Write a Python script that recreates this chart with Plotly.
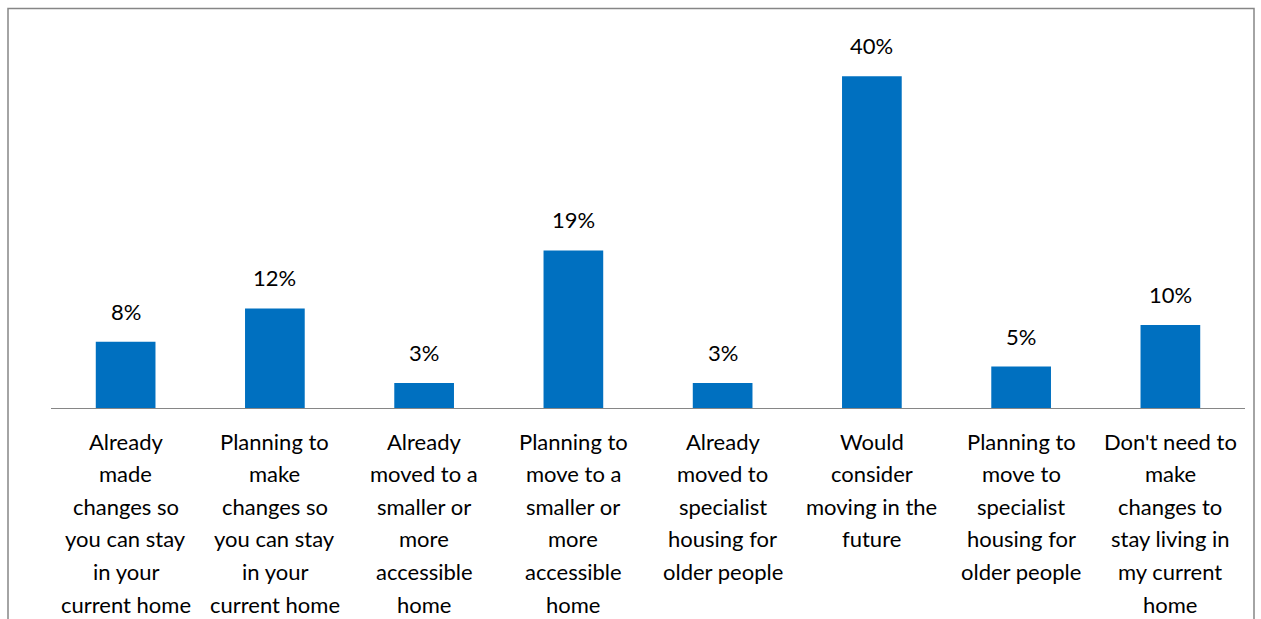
import plotly.graph_objects as go

# Survey responses: share of respondents per option (%)
categories = [
    "Already made changes so you can stay in your current home",
    "Planning to make changes so you can stay in your current home",
    "Already moved to a smaller or more accessible home",
    "Planning to move to a smaller or more accessible home",
    "Already moved to specialist housing for older people",
    "Would consider moving in the future",
    "Planning to move to specialist housing for older people",
    "Don't need to make changes to stay living in my current home",
]
values = [8, 12, 3, 19, 3, 40, 5, 10]
value_labels = ["8%", "12%", "3%", "19%", "3%", "40%", "5%", "10%"]

# Wrapped category labels, one entry per line
label_lines = [
    ["Already", "made", "changes so", "you can stay", "in your", "current home"],
    ["Planning to", "make", "changes so", "you can stay", "in your", "current home"],
    ["Already", "moved to a", "smaller or", "more", "accessible", "home"],
    ["Planning to", "move to a", "smaller or", "more", "accessible", "home"],
    ["Already", "moved to", "specialist", "housing for", "older people"],
    ["Would", "consider", "moving in the", "future"],
    ["Planning to", "move to", "specialist", "housing for", "older people"],
    ["Don't need to", "make", "changes to", "stay living in", "my current", "home"],
]

W, H = 1261, 619
ML, MR, MT, MB = 51, 16, 43, 211
FONT = "Lato, Calibri, 'Open Sans', sans-serif"
FS = 22
LINE_STEP = 32.6

fig = go.Figure(
    go.Bar(
        x=categories,
        y=values,
        marker=dict(color="#0070C0", line=dict(width=0)),
        width=0.4,
        hoverinfo="skip",
    )
)

annotations = []
# Value labels above the bars
for cat, v, lab in zip(categories, values, value_labels):
    annotations.append(dict(
        x=cat, y=v, xref="x", yref="y", text=lab, showarrow=False,
        xanchor="center", yanchor="bottom", yshift=15,
        font=dict(family=FONT, size=FS, color="#000000"),
    ))
# Multi-line category labels beneath the axis
for cat, lines in zip(categories, label_lines):
    for i, line in enumerate(lines):
        annotations.append(dict(
            x=cat, y=0, xref="x", yref="paper", text=line, showarrow=False,
            xanchor="center", yanchor="top", yshift=-(17.6 + i * LINE_STEP),
            font=dict(family=FONT, size=FS, color="#000000"),
        ))

pw = W - ML - MR
ph = H - MT - MB
# Outer chart border (runs past the bottom edge of the page)
border = dict(
    type="rect", xref="paper", yref="paper",
    x0=(8 - ML) / pw, x1=(1254 - ML) / pw,
    y0=(H - 640 - MB) / ph, y1=(H - 8.5 - MB) / ph,
    line=dict(color="#868686", width=1.5), fillcolor="rgba(0,0,0,0)",
    layer="below",
)

fig.update_layout(
    width=W, height=H,
    margin=dict(l=ML, r=MR, t=MT, b=MB, pad=0),
    paper_bgcolor="white", plot_bgcolor="white",
    showlegend=False,
    xaxis=dict(
        showticklabels=False, showgrid=False, zeroline=False,
        showline=True, linecolor="#868686", linewidth=1, ticks="",
        fixedrange=True,
    ),
    yaxis=dict(
        range=[0, 44], visible=False, showgrid=False, zeroline=False,
        fixedrange=True,
    ),
    annotations=annotations,
    shapes=[border],
)

fig.write_html("out.html", config={"displayModeBar": False})
